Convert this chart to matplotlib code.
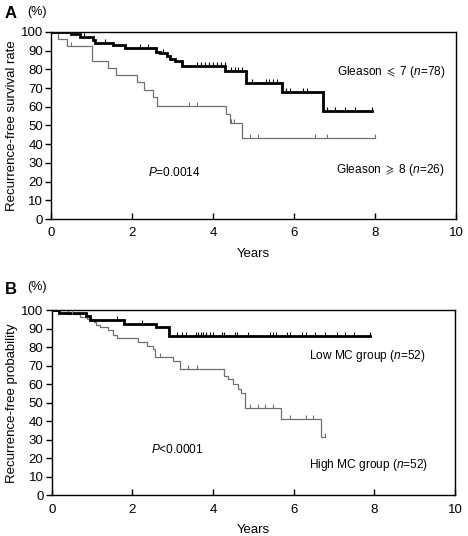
import numpy as np
import matplotlib
matplotlib.use("Agg")
import matplotlib.pyplot as plt

plt.rcParams['font.family'] = ['Liberation Sans', 'DejaVu Sans']
plt.rcParams['mathtext.fontset'] = 'custom'
plt.rcParams['mathtext.rm'] = 'Liberation Sans'
plt.rcParams['mathtext.it'] = 'Liberation Sans:italic'
plt.rcParams['mathtext.fallback'] = 'stixsans'

# ---- Panel A data (Gleason) ----
a_low_t = [0, 0.48, 0.71, 1.02, 1.08, 1.53, 1.82, 2.59, 2.69, 2.85, 2.94, 3.06, 3.22, 4.30, 4.80, 5.70, 6.70, 7.91]
a_low_s = [100, 98.7, 97.4, 95.5, 94.2, 93.0, 91.2, 89.5, 88.5, 87.0, 85.7, 84.3, 82.0, 79.3, 72.8, 67.9, 57.9, 57.9]
a_low_cens = [0.81, 1.33, 2.19, 2.40, 2.75, 3.59, 3.69, 3.79, 3.89, 3.99, 4.09, 4.19, 4.28, 4.45, 4.53, 4.62, 4.70,
              4.95, 5.30, 5.38, 5.47, 5.57, 5.80, 5.89, 6.22, 6.31, 6.80, 7.00, 7.25, 7.50, 7.91]

a_high_t = [0, 0.17, 0.40, 1.01, 1.41, 1.61, 2.12, 2.30, 2.52, 2.60, 4.31, 4.41, 4.70, 8.0]
a_high_s = [100, 96.2, 92.3, 84.6, 80.8, 76.9, 73.1, 69.2, 65.4, 60.4, 56.1, 51.2, 43.1, 43.1]
a_high_cens = [0.48, 3.41, 3.60, 4.45, 4.52, 4.92, 5.11, 6.51, 6.80, 8.0]

# ---- Panel B data (MC group) ----
b_low_t = [0, 0.19, 0.85, 0.95, 1.79, 2.58, 2.90, 7.88]
b_low_s = [100, 98.4, 96.7, 94.6, 92.4, 90.6, 85.9, 85.9]
b_low_cens = [1.61, 2.23, 3.10, 3.22, 3.34, 3.57, 3.63, 3.69, 3.75, 3.82, 3.92, 4.00, 4.21, 4.27, 4.54, 4.59,
              4.87, 5.40, 5.49, 5.57, 5.82, 5.90, 6.20, 6.31, 6.52, 6.77, 7.06, 7.26, 7.49, 7.88]

b_high_t = [0, 0.41, 0.70, 0.88, 1.05, 1.11, 1.19, 1.40, 1.53, 1.61, 2.14, 2.35, 2.50, 2.57, 3.01, 3.18,
            4.27, 4.37, 4.50, 4.62, 4.70, 4.78, 5.69, 6.68, 6.77]
b_high_s = [100, 98.1, 96.2, 95.0, 93.7, 92.0, 90.7, 89.3, 86.6, 84.8, 82.5, 80.7, 79.0, 74.7, 72.3, 68.3,
            64.3, 62.6, 60.0, 57.5, 55.2, 47.3, 41.5, 31.7, 31.7]
b_high_cens = [0.50, 2.68, 3.38, 3.59, 4.91, 5.11, 5.28, 5.49, 5.90, 6.30, 6.48, 6.77]

x_ticks = [0, 2, 4, 6, 8, 10]
y_ticks = [0, 10, 20, 30, 40, 50, 60, 70, 80, 90, 100]

BLACK = '#000000'
GRAY = '#707070'
ANN = 8.6


def step_value(times, surv, c):
    idx = np.searchsorted(np.asarray(times), c, side='right') - 1
    return np.asarray(surv)[np.clip(idx, 0, len(surv) - 1)]


def draw_curve(ax, t, s, cens, color, lw, ms):
    ax.step(t, s, where='post', color=color, lw=lw, solid_joinstyle='miter', zorder=3 if lw > 1.5 else 2)
    cv = step_value(t, s, np.asarray(cens))
    ax.plot(cens, cv, linestyle='none', marker=2, markersize=ms, markeredgewidth=0.8,
            color=color, zorder=4)


def style_axes(ax, ylabel):
    ax.set_xlim(0, 10)
    ax.set_ylim(0, 100)
    ax.set_xticks(x_ticks)
    ax.set_yticks(y_ticks)
    ax.tick_params(axis='x', direction='in', length=4, width=1.0, labelsize=9.5, pad=6)
    ax.tick_params(axis='y', direction='out', length=4, width=1.0, labelsize=9.5, pad=2)
    for sp in ax.spines.values():
        sp.set_linewidth(1.0)
    ax.set_ylabel(ylabel, fontsize=9.5, labelpad=2)
    ax.set_xlabel('Years', fontsize=9.5, labelpad=6)


fig = plt.figure(figsize=(4.68, 5.36), dpi=100)

axA = fig.add_axes([0.1096, 0.5914, 0.865, 0.349])
draw_curve(axA, a_low_t, a_low_s, a_low_cens, BLACK, 2.0, 3)
draw_curve(axA, a_high_t, a_high_s, a_high_cens, GRAY, 0.9, 3)
style_axes(axA, 'Recurrence-free survival rate')
axA.text(7.05, 78.8, r'Gleason $\leqslant$ 7 ($n$=78)', fontsize=ANN, va='center', ha='left')
axA.text(7.03, 26.2, r'Gleason $\geqslant$ 8 ($n$=26)', fontsize=ANN, va='center', ha='left')
axA.text(2.38, 25, '$P$=0.0014', fontsize=ANN, va='center', ha='left')

axB = fig.add_axes([0.1105, 0.0756, 0.862, 0.346])
draw_curve(axB, b_low_t, b_low_s, b_low_cens, BLACK, 2.0, 3)
draw_curve(axB, b_high_t, b_high_s, b_high_cens, GRAY, 0.9, 3)
style_axes(axB, 'Recurrence-free probability')
axB.text(6.37, 75.4, 'Low MC group ($n$=52)', fontsize=ANN, va='center', ha='left')
axB.text(6.37, 16.7, 'High MC group ($n$=52)', fontsize=ANN, va='center', ha='left')
axB.text(2.45, 24.6, '$P$<0.0001', fontsize=ANN, va='center', ha='left')

fig.text(5 / 468, 1 - 13 / 536, 'A', fontsize=12, fontweight='bold', va='center', ha='left')
fig.text(27 / 468, 1 - 12 / 536, '(%)', fontsize=9, va='center', ha='left')
fig.text(5 / 468, 1 - 289 / 536, 'B', fontsize=12, fontweight='bold', va='center', ha='left')
fig.text(27 / 468, 1 - 287 / 536, '(%)', fontsize=9, va='center', ha='left')

fig.savefig('out.png', dpi=100)
